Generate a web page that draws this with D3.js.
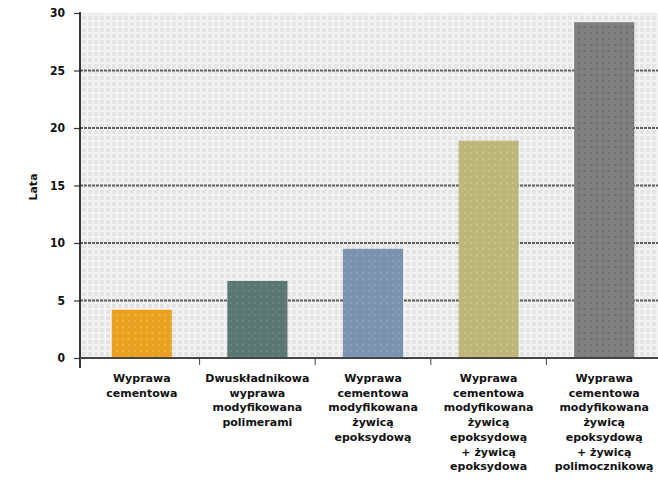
<!DOCTYPE html>
<html>
<head>
<meta charset="utf-8">
<script src="https://cdn.jsdelivr.net/npm/d3@7"></script>
<style>
  body { margin: 0; background: #fff; }
  svg { display: block; font-family: "DejaVu Sans", sans-serif; }
</style>
</head>
<body>
<svg id="chart" width="658" height="484"></svg>
<script>
// data
const categories = [
  ["Wyprawa", "cementowa"],
  ["Dwuskładnikowa", "wyprawa", "modyfikowana", "polimerami"],
  ["Wyprawa", "cementowa", "modyfikowana", "żywicą", "epoksydową"],
  ["Wyprawa", "cementowa", "modyfikowana", "żywicą", "epoksydową", "+ żywicą", "epoksydowa"],
  ["Wyprawa", "cementowa", "modyfikowana", "żywicą", "epoksydową", "+ żywicą", "polimocznikową"]
];
const values = [4.2, 6.7, 9.5, 18.9, 29.2];
const barColors = ["#e9a11f", "#5b7772", "#7c92ae", "#bdb77c", "#808080"];
const dotColors = ["#f0b84a", "#6d8984", "#8ea3bd", "#cfc78a", "#6a6a6a"];
const yTicks = [0, 5, 10, 15, 20, 25, 30];
const yLabel = "Lata";

const svg = d3.select("#chart");
const defs = svg.append("defs");

// plot background: light grey cross pattern
const bg = defs.append("pattern")
  .attr("id", "bgPat")
  .attr("patternUnits", "userSpaceOnUse")
  .attr("width", 6).attr("height", 6);
bg.append("rect").attr("width", 6).attr("height", 6).attr("fill", "#e4e4e4");
bg.append("rect").attr("x", 2).attr("y", 0).attr("width", 2).attr("height", 6).attr("fill", "#f2f2f2");
bg.append("rect").attr("x", 0).attr("y", 2).attr("width", 6).attr("height", 2).attr("fill", "#f2f2f2");

// dotted fills for the bars
barColors.forEach((c, i) => {
  const p = defs.append("pattern")
    .attr("id", "barPat" + i)
    .attr("patternUnits", "userSpaceOnUse")
    .attr("width", 6).attr("height", 6);
  p.append("rect").attr("width", 6).attr("height", 6).attr("fill", c);
  p.append("circle").attr("cx", 3).attr("cy", 3).attr("r", 1).attr("fill", dotColors[i]);
});

const plotLeft = 80, plotTop = 13, plotBottom = 358, plotRight = 658;

const x = d3.scaleBand()
  .domain(d3.range(categories.length))
  .range([84, 662])
  .padding(0);

const y = d3.scaleLinear()
  .domain([0, 30])
  .range([plotBottom, plotTop]);

// background
svg.append("rect")
  .attr("x", plotLeft).attr("y", plotTop)
  .attr("width", plotRight - plotLeft).attr("height", plotBottom - plotTop)
  .attr("fill", "url(#bgPat)");

// grid lines
svg.append("g")
  .selectAll("line")
  .data(yTicks.filter(t => t > 0 && t < 30))
  .join("line")
  .attr("x1", plotLeft).attr("x2", plotRight)
  .attr("y1", d => y(d)).attr("y2", d => y(d))
  .attr("stroke", "#5e5e5e")
  .attr("stroke-width", 1.8)
  .attr("stroke-dasharray", "3 1");

// bars
const bw = x.bandwidth() * 0.52;
svg.append("g")
  .selectAll("rect")
  .data(values)
  .join("rect")
  .attr("x", (d, i) => x(i) + (x.bandwidth() - bw) / 2)
  .attr("y", d => y(d))
  .attr("width", bw)
  .attr("height", d => y(0) - y(d))
  .attr("fill", (d, i) => "url(#barPat" + i + ")");

// y axis
const yAxis = svg.append("g")
  .attr("transform", `translate(${plotLeft},0)`)
  .call(d3.axisLeft(y).tickValues(yTicks).tickSizeInner(6).tickSizeOuter(0).tickPadding(9));
yAxis.select(".domain").remove();
yAxis.append("line")
  .attr("x1", 0).attr("x2", 0)
  .attr("y1", plotTop - 1).attr("y2", plotBottom + 10)
  .attr("stroke", "#222").attr("stroke-width", 1.8);
yAxis.selectAll(".tick line").attr("stroke", "#333").attr("stroke-width", 1.2);
yAxis.selectAll(".tick text")
  .attr("fill", "#111")
  .style("font-size", "12px")
  .style("font-family", "DejaVu Sans Condensed, DejaVu Sans, sans-serif")
  .style("font-weight", "bold");

// x axis line and category separators
svg.append("line")
  .attr("x1", plotLeft).attr("x2", plotRight)
  .attr("y1", plotBottom).attr("y2", plotBottom)
  .attr("stroke", "#444").attr("stroke-width", 2);

svg.append("g")
  .selectAll("line")
  .data(d3.range(1, categories.length))
  .join("line")
  .attr("x1", d => x(d)).attr("x2", d => x(d))
  .attr("y1", plotBottom).attr("y2", plotBottom + 7)
  .attr("stroke", "#444").attr("stroke-width", 1);

// category labels
const labels = svg.append("g")
  .selectAll("text")
  .data(categories)
  .join("text")
  .attr("text-anchor", "middle")
  .attr("fill", "#111")
  .style("font-size", "11px")
  .style("font-weight", "bold");
labels.selectAll("tspan")
  .data((d, i) => d.map(line => ({ line, i })))
  .join("tspan")
  .attr("x", d => x(d.i) + x.bandwidth() / 2)
  .attr("y", (d, j) => 382 + j * 14.7)
  .text(d => d.line);

// y label
svg.append("text")
  .attr("transform", "translate(37,187) rotate(-90)")
  .attr("text-anchor", "middle")
  .attr("fill", "#111")
  .style("font-size", "11px")
  .style("font-weight", "bold")
  .text(yLabel);
</script>
</body>
</html>
